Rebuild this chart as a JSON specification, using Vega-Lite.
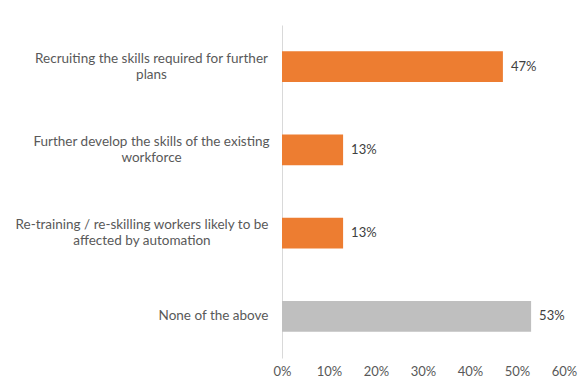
{
  "$schema": "https://vega.github.io/schema/vega-lite/v6.json",
  "width": 282,
  "height": 333,
  "autosize": {"type": "none"},
  "padding": {"left": 282, "top": 25, "right": 18, "bottom": 25},
  "background": "white",
  "config": {"view": {"stroke": null}, "font": "Lato"},
  "data": {
    "values": [
      {"cat": "Recruiting the skills required for further plans", "value": 0.47, "grp": "a"},
      {"cat": "Further develop the skills of the existing workforce", "value": 0.13, "grp": "a"},
      {"cat": "Re-training / re-skilling workers likely to be affected by automation", "value": 0.13, "grp": "a"},
      {"cat": "None of the above", "value": 0.53, "grp": "b"}
    ]
  },
  "encoding": {
    "y": {
      "field": "cat",
      "type": "nominal",
      "sort": null,
      "scale": {"paddingInner": 0.63, "paddingOuter": 0.315},
      "axis": {
        "title": null,
        "ticks": false,
        "domainColor": "#D9D9D9",
        "labelColor": "#595959",
        "labelFontSize": 13.5,
        "labelLimit": 300,
        "labelLineHeight": 16,
        "labelBaseline": "middle",
        "labelAlign": {"condition": {"test": "datum.value == 'None of the above'", "value": "right"}, "value": "center"},
        "labelPadding": {"condition": [
          {"test": "datum.value == 'None of the above'", "value": 14},
          {"test": "datum.value == 'Re-training / re-skilling workers likely to be affected by automation'", "value": 140.5}
        ], "value": 131},
        "labelOffset": {"condition": {"test": "datum.value == 'None of the above'", "value": 0}, "value": -8},
        "labelExpr": "datum.value == 'None of the above' ? datum.value : (datum.value == 'Recruiting the skills required for further plans' ? ['Recruiting the skills required for further', 'plans'] : (datum.value == 'Further develop the skills of the existing workforce' ? ['Further develop the skills of the existing', 'workforce'] : ['Re-training / re-skilling workers likely to be', 'affected by automation']))"
      }
    },
    "x": {
      "field": "value",
      "type": "quantitative",
      "scale": {"domain": [0, 0.6], "nice": false},
      "axis": {
        "title": null,
        "format": ".0%",
        "values": [0, 0.1, 0.2, 0.3, 0.4, 0.5, 0.6],
        "grid": false,
        "ticks": false,
        "domain": false,
        "labelColor": "#595959",
        "labelFontSize": 13,
        "labelPadding": 7,
        "labelFlush": false,
        "labelOverlap": false
      }
    }
  },
  "layer": [
    {
      "mark": {"type": "bar"},
      "encoding": {
        "color": {
          "field": "grp",
          "type": "nominal",
          "scale": {"domain": ["a", "b"], "range": ["#ED7D31", "#BFBFBF"]},
          "legend": null
        }
      }
    },
    {
      "mark": {"type": "text", "align": "left", "dx": 8, "fontSize": 13, "color": "#404040"},
      "encoding": {
        "text": {"field": "value", "type": "quantitative", "format": ".0%"}
      }
    }
  ]
}
